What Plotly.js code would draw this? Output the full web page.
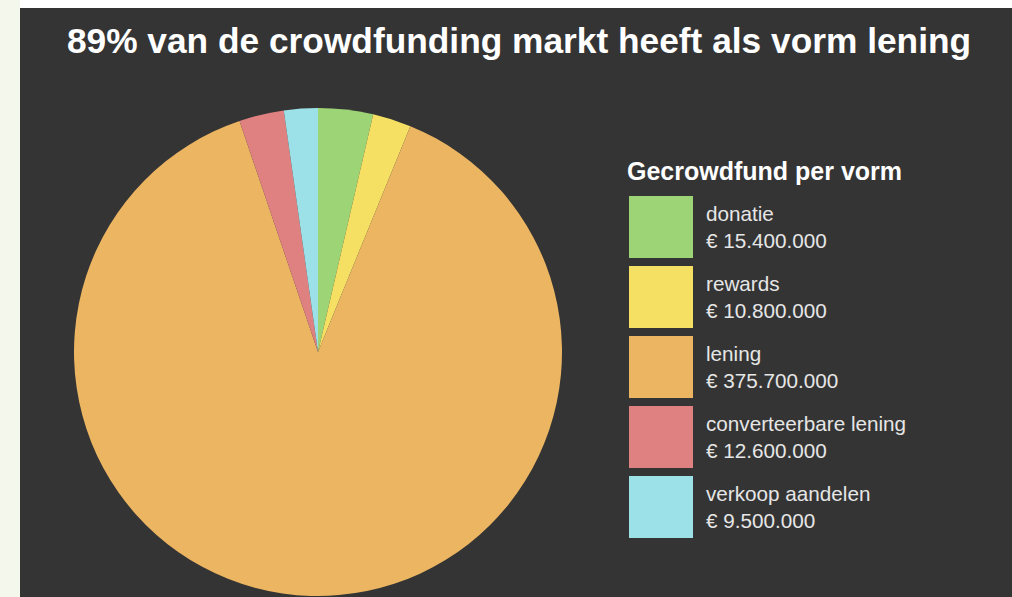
<!DOCTYPE html>
<html><head><meta charset="utf-8">
<script src="https://cdn.plot.ly/plotly-3.0.1.min.js"></script>
<style>html,body{margin:0;padding:0;background:#f4f8ec;}#chart{width:1012px;height:597px;}</style>
</head><body><div id="chart"></div>
<script>
const categories = ['donatie', 'rewards', 'lening', 'converteerbare lening', 'verkoop aandelen'];
const amounts = [15400000, 10800000, 375700000, 12600000, 9500000];
const sliceColors = ['#9dd475', '#f5e064', '#ebb562', '#e08181', '#9ce1e8'];
const chartTitle = '89% van de crowdfunding markt heeft als vorm lening';
const legendTitle = 'Gecrowdfund per vorm';

const W = 1012, H = 597;
const px = x => x / W;
const py = y => 1 - y / H;
const fmt = n => '€ ' + String(n).replace(/\B(?=(\d{3})+(?!\d))/g, '.');
const FONT = '"Liberation Sans", Arial, Helvetica, sans-serif';

const cx = 318, cy = 352, r = 244;

const pie = {
  type: 'pie',
  labels: categories,
  values: amounts,
  marker: {colors: sliceColors, line: {width: 0}},
  sort: false,
  direction: 'clockwise',
  rotation: 0,
  textinfo: 'none',
  hoverinfo: 'label+value',
  showlegend: false,
  domain: {x: [px(cx - r), px(cx + r)], y: [py(cy + r), py(cy - r)]}
};

const shapes = [
  {type: 'rect', xref: 'paper', yref: 'paper', x0: px(20), x1: 1, y0: 0, y1: py(8),
   fillcolor: '#343434', line: {width: 0}, layer: 'below'},
  {type: 'rect', xref: 'paper', yref: 'paper', x0: px(20), x1: 1, y0: py(8), y1: 1,
   fillcolor: '#ffffff', line: {width: 0}, layer: 'below'}
];
const annotations = [
  {text: '<b>' + legendTitle + '</b>', xref: 'paper', yref: 'paper', x: px(625), y: py(171),
   xanchor: 'left', yanchor: 'middle', showarrow: false,
   font: {family: FONT, size: 25, color: '#ffffff'}}
];
categories.forEach((c, i) => {
  const top = 196 + 70 * i;
  shapes.push({type: 'rect', xref: 'paper', yref: 'paper', x0: px(629), x1: px(693),
    y0: py(top + 62), y1: py(top), fillcolor: sliceColors[i], line: {width: 0}});
  annotations.push({text: c + '<br>' + fmt(amounts[i]), xref: 'paper', yref: 'paper',
    x: px(704), y: py(top + 31), xanchor: 'left', yanchor: 'middle', align: 'left',
    showarrow: false, font: {family: FONT, size: 20.7, color: '#e6e6e6'}});
});

const layout = {
  width: W, height: H,
  margin: {l: 0, r: 0, t: 0, b: 0},
  paper_bgcolor: '#f4f8ec',
  title: {text: '<b>' + chartTitle + '</b>', x: px(519), xanchor: 'center',
          y: py(41), yanchor: 'middle', font: {family: FONT, size: 35.3, color: '#ffffff'}},
  shapes: shapes,
  annotations: annotations,
  showlegend: false
};

Plotly.newPlot('chart', [pie], layout, {displayModeBar: false});
</script>
</body></html>
